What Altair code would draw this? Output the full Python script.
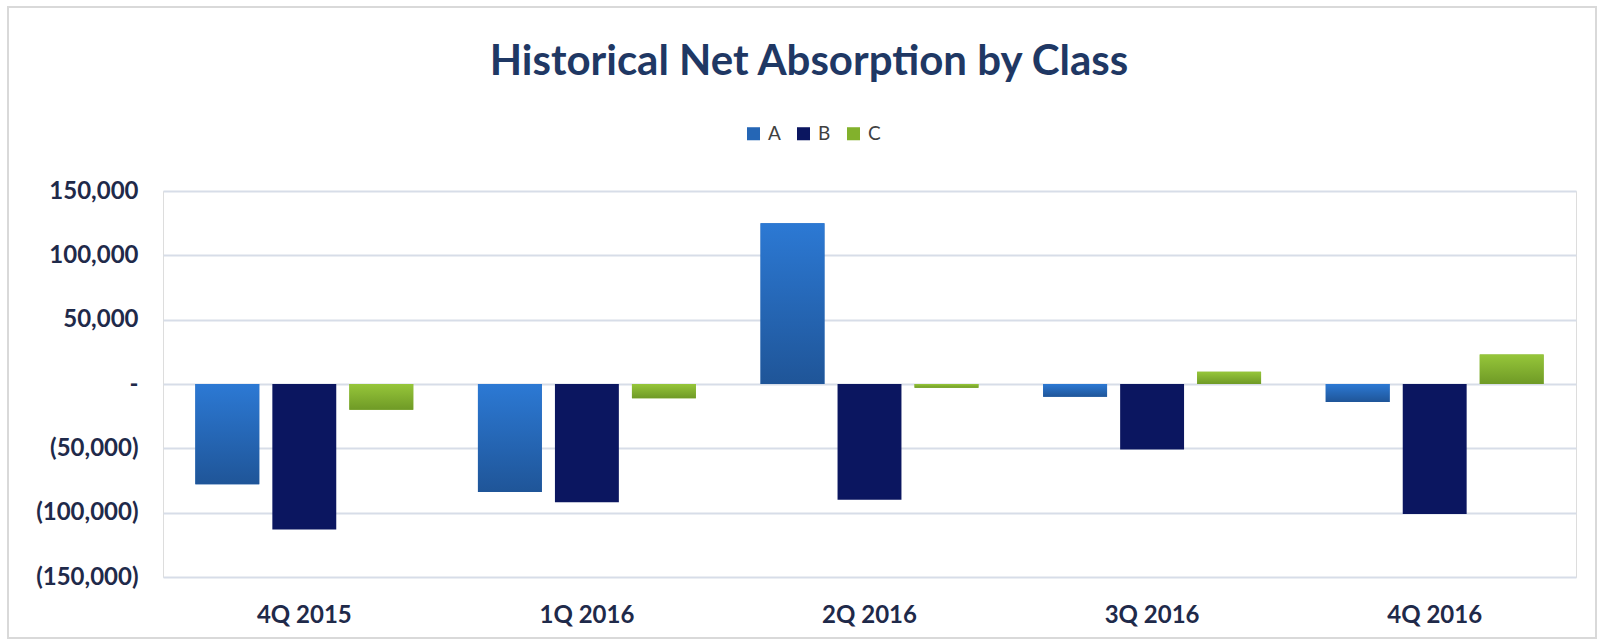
import altair as alt
import pandas as pd

quarters = ["4Q 2015", "1Q 2016", "2Q 2016", "3Q 2016", "4Q 2016"]
classes = ["A", "B", "C"]
class_a = [-78000, -84000, 125000, -10000, -14000]
class_b = [-113000, -92000, -90000, -51000, -101000]
class_c = [-20000, -11000, -3000, 9500, 23000]
y_ticks = [-150000, -100000, -50000, 0, 50000, 100000, 150000]
title_text = ["Historical Net Absorption by Class"]

rows = []
for i, q in enumerate(quarters):
    rows.append({"quarter": q, "cls": "A", "value": class_a[i]})
    rows.append({"quarter": q, "cls": "B", "value": class_b[i]})
    rows.append({"quarter": q, "cls": "C", "value": class_c[i]})
df = pd.DataFrame(rows)

FONT = "Lato"
TEXT = "#1F2A4A"

x_enc = alt.X("quarter:N", sort=quarters,
              scale=alt.Scale(paddingInner=0, paddingOuter=0),
              axis=alt.Axis(title=None, labelAngle=0, labelFontSize=24, labelFontWeight="bold",
                            labelColor=TEXT, labelFont=FONT, labelPadding=26,
                            domain=False, ticks=False, labelBaseline="top"))
xo_enc = alt.XOffset("cls:N", sort=classes,
                     scale=alt.Scale(domain=classes, paddingInner=0.17, paddingOuter=0.42))
y_enc = alt.Y("value:Q",
              scale=alt.Scale(domain=[-150000, 150000], nice=False, zero=True),
              axis=alt.Axis(title=None, values=y_ticks, labelFontSize=24, labelFontWeight="bold",
                            labelColor=TEXT, labelFont=FONT, labelPadding=25,
                            domain=False, ticks=False, gridColor="#D7DDE8", gridWidth=2,
                            labelExpr="datum.value == 0 ? '-    ' : datum.value < 0 ? '(' + format(-datum.value, ',') + ')' : format(datum.value, ',') + ' '"))

base = alt.Chart(df)

bars = base.mark_bar().encode(
    x=x_enc, xOffset=xo_enc, y=y_enc,
    color=alt.Color("cls:N", sort=classes,
                    scale=alt.Scale(domain=classes, range=["#2566B5", "#0B1660", "#82B12C"]),
                    legend=alt.Legend(title=None, orient="none", direction="horizontal",
                                      legendX=581, legendY=-67, symbolType="square",
                                      symbolSize=170, labelFontSize=19, labelFont=FONT,
                                      labelColor="#404040", columnPadding=13, labelOffset=5))
)

grad_a = alt.Gradient(gradient="linear", x1=0, y1=0, x2=0, y2=1,
                      stops=[alt.GradientStop(offset=0, color="#2C79D4"),
                             alt.GradientStop(offset=1, color="#1F5598")])
grad_c = alt.Gradient(gradient="linear", x1=0, y1=0, x2=0, y2=1,
                      stops=[alt.GradientStop(offset=0, color="#96C63A"),
                             alt.GradientStop(offset=1, color="#6F9A26")])

over_a = base.transform_filter(alt.datum.cls == "A").mark_bar(fill=grad_a).encode(
    x=x_enc, xOffset=xo_enc, y=y_enc)
over_c = base.transform_filter(alt.datum.cls == "C").mark_bar(fill=grad_c).encode(
    x=x_enc, xOffset=xo_enc, y=y_enc)

frame = alt.Chart(alt.Data(values=[{"k": 1}])).mark_rect(
    fill="transparent", stroke="#D9D9D9", strokeWidth=2, clip=False
).encode(x=alt.value(-155), x2=alt.value(1433), y=alt.value(-184), y2=alt.value(447))

title = alt.Chart(alt.Data(values=[{"t": t} for t in title_text])).mark_text(
    font=FONT, fontSize=42, fontWeight="bold", color="#1F3864",
    align="center", baseline="middle", clip=False
).encode(text="t:N", x=alt.value(646), y=alt.value(-129))

chart = alt.layer(frame, title, bars, over_a, over_c).properties(
    width=1413, height=386,
    autosize=alt.AutoSizeParams(type="none"),
    padding={"left": 163, "top": 191, "right": 28, "bottom": 66},
).configure_view(stroke=None).configure(background="white")

chart.save("out.html", embed_options={"renderer": "svg", "actions": False})
